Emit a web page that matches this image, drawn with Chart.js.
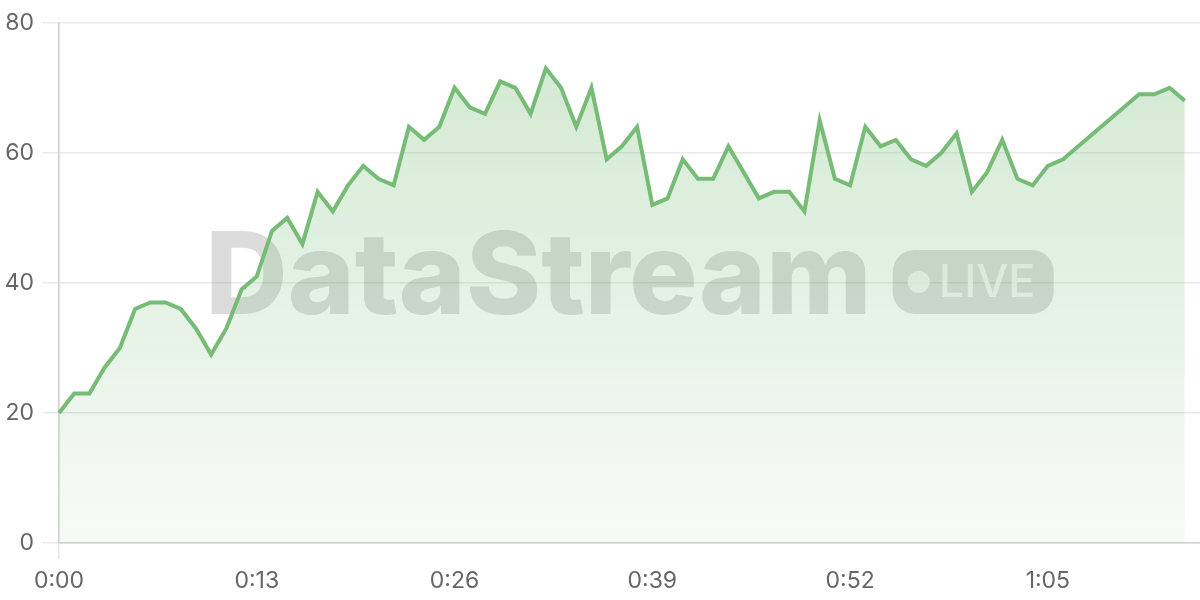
<!DOCTYPE html>
<html>
<head>
<meta charset="utf-8">
<script src="https://cdn.jsdelivr.net/npm/chart.js@4/dist/chart.umd.min.js"></script>
<style>
  html, body { margin: 0; padding: 0; background: #fff; }
  #wrap { width: 1200px; height: 600px; }
</style>
</head>
<body>
<div id="wrap"><canvas id="chart" width="1200" height="600"></canvas></div>
<script>
// elapsed time, one category per second
const timeLabels = [
  "0:00","0:01","0:02","0:03","0:04","0:05","0:06","0:07","0:08","0:09",
  "0:10","0:11","0:12","0:13","0:14","0:15","0:16","0:17","0:18","0:19",
  "0:20","0:21","0:22","0:23","0:24","0:25","0:26","0:27","0:28","0:29",
  "0:30","0:31","0:32","0:33","0:34","0:35","0:36","0:37","0:38","0:39",
  "0:40","0:41","0:42","0:43","0:44","0:45","0:46","0:47","0:48","0:49",
  "0:50","0:51","0:52","0:53","0:54","0:55","0:56","0:57","0:58","0:59",
  "1:00","1:01","1:02","1:03","1:04","1:05","1:06","1:07","1:08","1:09",
  "1:10","1:11","1:12","1:13","1:14","1:15"
];

// labels actually shown on the x axis
const shownTicks = ["0:00", "0:13", "0:26", "0:39", "0:52", "1:05"];

// stream readings
const streamValues = [
  20, 23, 23, 27, 30, 36, 37, 37, 36, 33,
  29, 33, 39, 41, 48, 50, 46, 54, 51, 55,
  58, 56, 55, 64, 62, 64, 70, 67, 66, 71,
  70, 66, 73, 70, 64, 70, 59, 61, 64, 52,
  53, 59, 56, 56, 61, 57, 53, 54, 54, 51,
  65, 56, 55, 64, 61, 62, 59, 58, 60, 63,
  54, 57, 62, 56, 55, 58, 59, 61, 63, 65,
  67, 69, 69, 70, 68
];

const GREEN = "rgb(118, 188, 118)";
const GRID = "#e9e9e9";
const TICK_TEXT = "#666666";

// "DataStream LIVE" watermark, drawn under the dataset
const watermarkPlugin = {
  id: "watermark",
  beforeDatasetsDraw(chart) {
    const { ctx, chartArea } = chart;
    const cx = (chartArea.left + chartArea.right) / 2;
    const baseline = (chartArea.top + chartArea.bottom) / 2 + 31;

    ctx.save();
    ctx.font = "800 114px Inter";
    const word = "DataStream";
    const wordW = ctx.measureText(word).width;
    const gap = 21, badgeW = 161, badgeH = 64;
    const startX = cx - (wordW + gap + badgeW) / 2;

    ctx.fillStyle = "rgba(115, 115, 115, 0.25)";
    ctx.textBaseline = "alphabetic";
    ctx.fillText(word, startX, baseline);

    // badge
    const bx = startX + wordW + gap, by = baseline - badgeH;
    ctx.beginPath();
    ctx.roundRect(bx, by, badgeW, badgeH, 22);
    ctx.fill();

    ctx.fillStyle = "rgba(255, 255, 255, 0.75)";
    ctx.beginPath();
    ctx.arc(bx + 26, by + badgeH / 2, 11, 0, Math.PI * 2);
    ctx.fill();

    ctx.font = "500 45px Inter";
    ctx.textBaseline = "middle";
    ctx.fillText("LIVE", bx + 46, by + badgeH / 2 + 2);
    ctx.restore();
  }
};

const ctx = document.getElementById("chart").getContext("2d");
new Chart(ctx, {
  type: "line",
  data: {
    labels: timeLabels,
    datasets: [{
      data: streamValues,
      borderColor: GREEN,
      borderWidth: 4,
      pointRadius: 0,
      tension: 0,
      fill: "origin",
      backgroundColor: function(context) {
        const area = context.chart.chartArea;
        if (!area) return "rgba(118, 188, 118, 0.2)";
        const g = context.chart.ctx.createLinearGradient(0, area.top, 0, area.bottom);
        g.addColorStop(0, "rgba(118, 188, 118, 0.34)");
        g.addColorStop(1, "rgba(118, 188, 118, 0.06)");
        return g;
      }
    }]
  },
  options: {
    responsive: false,
    animation: false,
    layout: { padding: { top: 7, left: 5, right: 0, bottom: 0 } },
    plugins: {
      legend: { display: false },
      tooltip: { enabled: false }
    },
    scales: {
      x: {
        afterFit: function(scale) { scale.height = 57; },
        border: { color: "#d2d2d2", width: 1.5 },
        grid: {
          color: function(c) {
            return shownTicks.includes(timeLabels[c.index]) ? GRID : "rgba(0,0,0,0)";
          },
          lineWidth: 1.5,
          tickLength: 16
        },
        ticks: {
          autoSkip: false,
          maxRotation: 0,
          padding: 8,
          color: TICK_TEXT,
          font: { family: "Inter", size: 23 },
          callback: function(value) {
            const lbl = this.getLabelForValue(value);
            return shownTicks.includes(lbl) ? lbl : null;
          }
        }
      },
      y: {
        min: 0,
        max: 80,
        afterFit: function(scale) { scale.width = 54; },
        border: { color: "#d2d2d2", width: 1.5 },
        grid: { color: GRID, lineWidth: 1.5, tickLength: 16 },
        ticks: {
          stepSize: 20,
          padding: 9,
          color: TICK_TEXT,
          font: { family: "Inter", size: 23 }
        }
      }
    }
  },
  plugins: [watermarkPlugin]
});
</script>
</body>
</html>
